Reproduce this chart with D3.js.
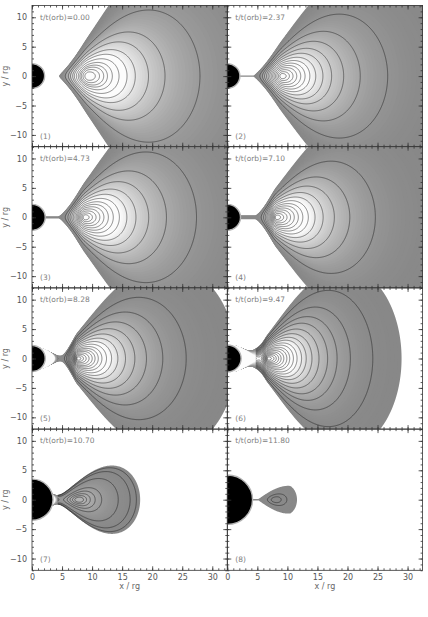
<!DOCTYPE html>
<html>
<head>
<meta charset="utf-8">
<script src="https://cdn.jsdelivr.net/npm/d3@7"></script>
<style>
body { margin: 0; background: #fff; }
svg { display: block; }
text { font-family: "DejaVu Sans", sans-serif; }
</style>
</head>
<body>
<svg width="428" height="617"></svg>
<script>
var times = ["0.00", "2.37", "4.73", "7.10", "8.28", "9.47", "10.70", "11.80"];
var rHole = [2.1, 2.1, 2.2, 2.2, 2.2, 2.3, 3.5, 4.2];      // black hole radius (rg)
var rCenter = [9.4, 9.1, 8.8, 8.2, 7.6, 6.8, 7.8, 7.0];     // density maximum (rg)
var rOuter = [50, 41, 44, 38, 34, 29, 18, 11.6];            // outer edge on the equator (rg)
var rTaper = [0, 0, 0, 0, 0, 0, 0, 10.5];                   // where the surface reaches full height (0 = centre)
var stretch = [1, 1, 1, 1, 1, 1.2, 1.05, 1.25];             // vertical thickness
var neck = [-1, 0.03, 0.05, 0.08, 0.12, 0.8, 1, 0.02];      // overflow through the cusp (-1 = none)
var flatNeck = [0, 1, 1, 1, 0, 0, 0, 1];                    // thin stream instead of a wedge
var levelsA = [0.35, 0.52, 0.62, 0.71, 0.77, 0.83, 0.88, 0.915, 0.94, 0.965, 0.985];
var levelsB = [0.3, 0.45, 0.56, 0.65, 0.72, 0.78, 0.83, 0.87, 0.905, 0.935, 0.96, 0.98, 0.993];
var levelsC = [0.2, 0.33, 0.44, 0.53, 0.61, 0.68, 0.74, 0.79, 0.835, 0.87, 0.9, 0.925, 0.95, 0.97, 0.985, 0.995];
var levelsD = [0.14, 0.28, 0.38, 0.46, 0.54, 0.61, 0.67, 0.72, 0.77, 0.81, 0.85, 0.88, 0.91, 0.935, 0.955, 0.972, 0.985, 0.995];
var levelsE = [0.06, 0.165, 0.38, 0.7, 0.82, 0.9, 0.95, 0.98];
var levelsF = [0.75, 0.93];
var panelLevels = [levelsA, levelsB, levelsB, levelsB, levelsC, levelsD, levelsE, levelsF];
var xTicks = [0, 5, 10, 15, 20, 25, 30];
var yTicks = [-10, -5, 0, 5, 10];

var svg = d3.select("svg");
var pw = 195.3, ph = 141.2, colLeft = [32, 227.3], top0 = 5.5;
var nx = 325, ny = 240, dx = 32.5 / nx, dy = 24 / ny;
var H = 0.025, nBands = 48;

function grey(v) {
  var t = Math.max(0, Math.min(1, v / H));
  var c = Math.round(136 + 119 * Math.pow(t, 2.2));
  return d3.rgb(c, c, c) + "";
}

// pseudo-Newtonian constant angular momentum torus
function torus(p) {
  var rc = rCenter[p], s = stretch[p];
  var l2h = Math.pow(rc, 3) / Math.pow(rc - 2, 2) / 2;
  var W = function(x, z) {
    var R = Math.sqrt(x * x + z * z);
    return -1 / (R - 2) + l2h / (x * x);
  };
  var wOut = W(rOuter[p], 0);
  var rCusp = 4, wCusp = -Infinity;
  for (var r = 2.3; r < rc; r += 0.01) {
    var w = W(r, 0);
    if (w > wCusp) { wCusp = w; rCusp = r; }
  }
  var closed = neck[p] < 0;
  var wNeck = closed ? wCusp - 0.001 : wCusp + neck[p] * (wOut - wCusp);
  var rEnd = rTaper[p] || rc;
  var wIn = function(x) {
    if (x <= rCusp) return wNeck;
    if (x >= rEnd) return wOut;
    var t = (x - rCusp) / (rEnd - rCusp);
    if (!rTaper[p]) t = t * t * (3 - 2 * t);
    return wNeck + (wOut - wNeck) * t;
  };
  var h = function(x, y) {
    var z = y / s;
    if (x * x + z * z < 4.2) return -1;
    if (closed && x < rCusp) return -1;
    var v = (x < rCusp && flatNeck[p]) ? wNeck - W(rCusp, z) : wIn(x) - W(x, z);
    return Math.max(-1, Math.min(1, v));
  };
  var hc = 0;
  for (var q = rCusp; q < rOuter[p]; q += 0.05) hc = Math.max(hc, h(q, 0));
  return { hc: hc, h: h, rCusp: rCusp };
}

var defs = svg.append("defs");

times.forEach(function(t, p) {
  var col = p % 2, row = Math.floor(p / 2);
  var x0 = colLeft[col], y0 = top0 + row * ph;
  var xs = d3.scaleLinear().domain([0, 32.5]).range([0, pw]);
  var ys = d3.scaleLinear().domain([-12, 12]).range([ph, 0]);
  var g = svg.append("g").attr("transform", "translate(" + x0 + "," + y0 + ")");
  var f = torus(p);

  defs.append("clipPath").attr("id", "clip" + p)
    .append("rect").attr("width", pw).attr("height", ph);
  // contour lines stop a little short of the hole
  var lineStart = Math.max(rHole[p] + 0.8, f.rCusp - 0.6);
  defs.append("clipPath").attr("id", "lclip" + p)
    .append("rect").attr("x", xs(lineStart)).attr("width", pw).attr("height", ph);
  var m = g.append("g").attr("clip-path", "url(#clip" + p + ")");

  var values = new Float64Array(nx * ny);
  for (var j = 0; j < ny; j++)
    for (var i = 0; i < nx; i++)
      values[i + j * nx] = f.h((i + 0.5) * dx, 12 - (j + 0.5) * dy);

  var path = d3.geoPath(d3.geoTransform({
    point: function(a, b) { this.stream.point(xs(a * dx), ys(12 - b * dy)); }
  }));

  // grey shading of the density
  var bands = [1e-7].concat(d3.range(1, nBands).map(function(k) { return H * k / nBands; }));
  m.append("g").selectAll("path")
    .data(d3.contours().size([nx, ny]).thresholds(bands)(values))
    .enter().append("path")
    .attr("d", path)
    .attr("fill", function(d) { return grey(d.value + H / (2 * nBands)); });

  // iso-density contours
  var levels = panelLevels[p].map(function(v) { return v * f.hc; });
  m.append("g").attr("clip-path", "url(#lclip" + p + ")")
    .selectAll("path")
    .data(d3.contours().size([nx, ny]).thresholds(levels)(values))
    .enter().append("path")
    .attr("d", path)
    .attr("fill", "none")
    .attr("stroke", "#1e1e1e")
    .attr("stroke-opacity", 0.6)
    .attr("stroke-width", 0.85);

  // black hole
  m.append("ellipse")
    .attr("cx", xs(0)).attr("cy", ys(0))
    .attr("rx", xs(rHole[p]) - xs(0))
    .attr("ry", ys(0) - ys(rHole[p]))
    .attr("fill", "#000")
    .attr("stroke", "#b4b4b4")
    .attr("stroke-width", 1.4);

  g.append("text")
    .attr("x", 8).attr("y", 14)
    .attr("font-size", 7.5).attr("fill", "#808080")
    .text("t/t(orb)=" + t);
  g.append("text")
    .attr("x", 8).attr("y", ph - 8)
    .attr("font-size", 7.5).attr("fill", "#808080")
    .text("(" + (p + 1) + ")");

  // axes, ticks pointing inwards
  function put(axis, tr) {
    var a = g.append("g").attr("transform", tr).call(axis);
    a.select(".domain").remove();
    a.selectAll("line").attr("stroke", "#333").attr("stroke-width", 0.8);
    a.selectAll("text").attr("font-size", 8).attr("fill", "#555")
      .attr("font-family", "DejaVu Sans, sans-serif");
    return a;
  }
  var minorX = d3.range(0, 33), minorY = d3.range(-12, 13);
  put(d3.axisBottom(xs).tickValues(minorX).tickSize(-2).tickFormat(""), "translate(0," + ph + ")");
  put(d3.axisTop(xs).tickValues(minorX).tickSize(-2).tickFormat(""), "translate(0,0)");
  put(d3.axisLeft(ys).tickValues(minorY).tickSize(-2).tickFormat(""), "translate(0,0)");
  put(d3.axisRight(ys).tickValues(minorY).tickSize(-2).tickFormat(""), "translate(" + pw + ",0)");
  put(d3.axisBottom(xs).tickValues(xTicks).tickSizeInner(-4).tickSizeOuter(0).tickPadding(4)
    .tickFormat(row === 3 ? d3.format("d") : ""), "translate(0," + ph + ")");
  put(d3.axisTop(xs).tickValues(xTicks).tickSizeInner(-4).tickSizeOuter(0).tickFormat(""), "translate(0,0)");
  put(d3.axisLeft(ys).tickValues(yTicks).tickSizeInner(-4).tickSizeOuter(0).tickPadding(5)
    .tickFormat(col === 0 ? d3.format("d") : ""), "translate(0,0)");
  put(d3.axisRight(ys).tickValues(yTicks).tickSizeInner(-4).tickSizeOuter(0).tickFormat(""), "translate(" + pw + ",0)");

  g.append("rect")
    .attr("width", pw).attr("height", ph)
    .attr("fill", "none").attr("stroke", "#333").attr("stroke-width", 0.8);

  if (col === 0) {
    g.append("text")
      .attr("transform", "translate(-24," + (ph / 2) + ") rotate(-90)")
      .attr("text-anchor", "middle")
      .attr("font-size", 8).attr("fill", "#666")
      .text("y / rg");
  }
  if (row === 3) {
    g.append("text")
      .attr("x", pw / 2).attr("y", ph + 19)
      .attr("text-anchor", "middle")
      .attr("font-size", 8).attr("fill", "#666")
      .text("x / rg");
  }
});
</script>
</body>
</html>
